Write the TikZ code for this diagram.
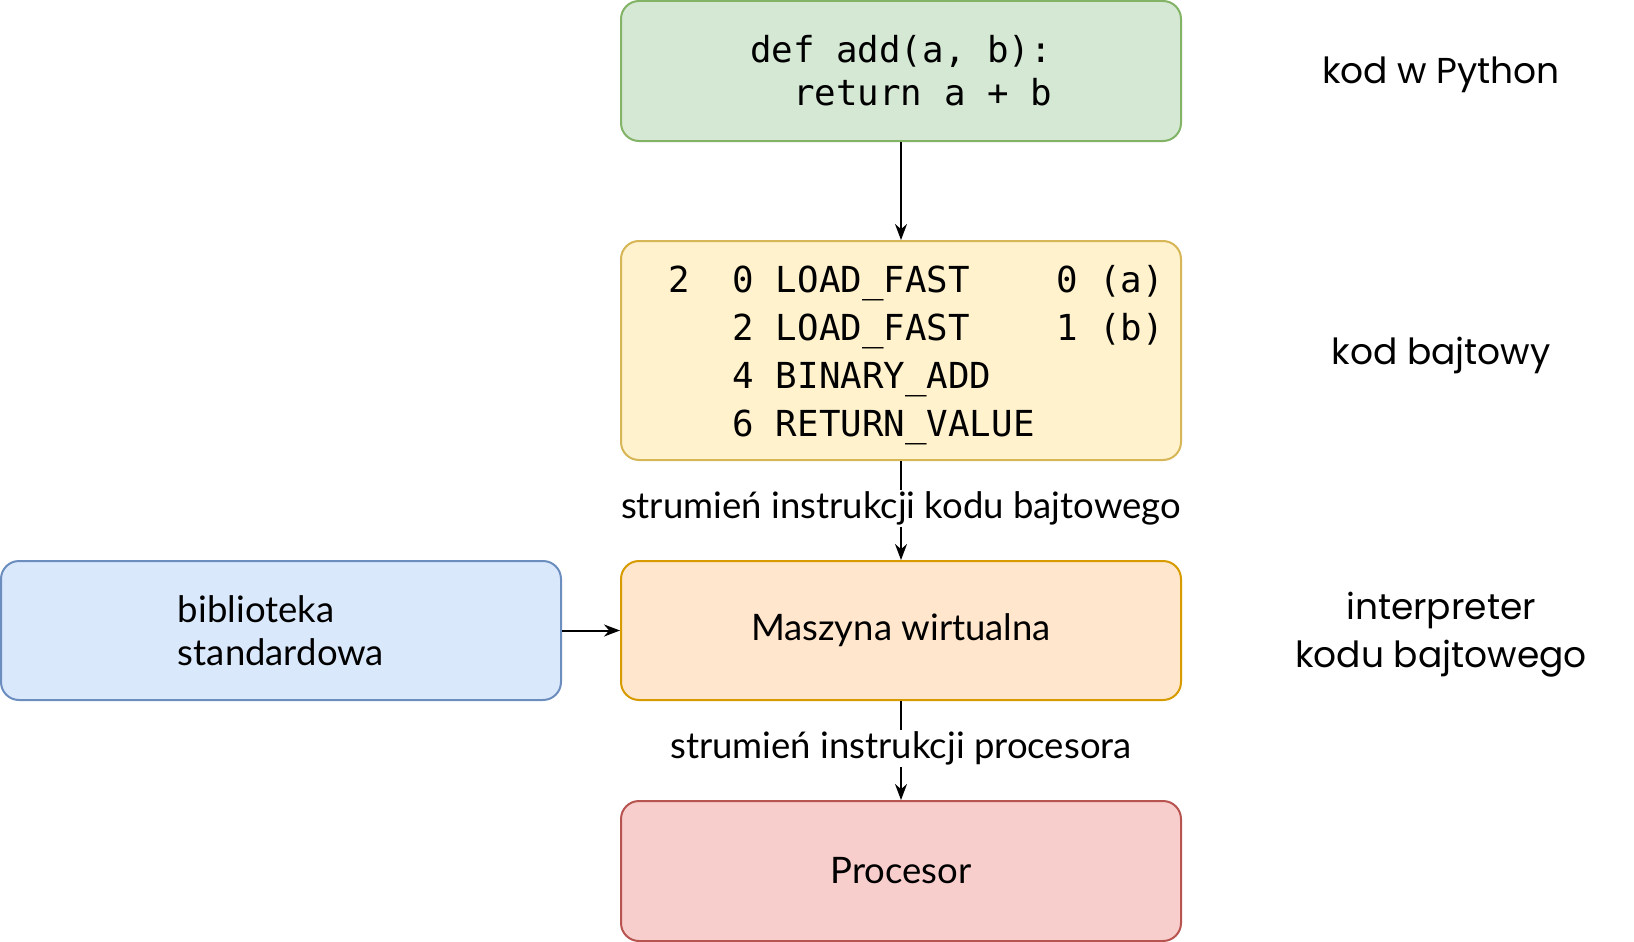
\documentclass[tikz,border=0pt]{standalone}
\usepackage{fontspec}
\setmainfont{Lato}
\newfontfamily\rlabelfont{Poppins}
\setmonofont{DejaVu Sans Mono}
\usetikzlibrary{arrows.meta}
\definecolor{gfill}{HTML}{D5E8D4}\definecolor{gdraw}{HTML}{82B366}
\definecolor{yfill}{HTML}{FFF2CC}\definecolor{ydraw}{HTML}{D6B656}
\definecolor{bfill}{HTML}{DAE8FC}\definecolor{bdraw}{HTML}{6C8EBF}
\definecolor{ofill}{HTML}{FFE6CC}\definecolor{odraw}{HTML}{D79B00}
\definecolor{rfill}{HTML}{F8CECC}\definecolor{rdraw}{HTML}{B85450}
\begin{document}
\begin{tikzpicture}[x=1pt,y=1pt,
  box/.style={draw, rounded corners=18pt, line width=2pt, minimum width=560pt,
    inner sep=0pt, font=\fontsize{36.5}{43}\selectfont, align=center},
  code/.style={font=\ttfamily\fontsize{35.8}{48}\selectfont, align=left, inner sep=0pt},
  arr/.style={-{Stealth[length=16pt,width=12pt]}, line width=2pt},
  elab/.style={fill=white, inner sep=2pt, font=\fontsize{36.5}{40}\selectfont},
  side/.style={font=\rlabelfont\fontsize{36}{48}\selectfont, align=center}]
\useasboundingbox (0,0) rectangle (1634,-942);
\node[box, fill=gfill, draw=gdraw, minimum height=140pt] (py) at (901,-71) {};
\node[font=\ttfamily\fontsize{35.8}{43}\selectfont, align=left, inner sep=0pt] (pytext) at (901,-70.5)
  {def add(a, b):\\\phantom{00}return a + b};
\node[box, fill=yfill, draw=ydraw, minimum height=219pt] (bc) at (901,-350.5) {};
\node[code, anchor=west] (bctext) at (668,-355)
  {2\phantom{00}0 LOAD\_FAST\phantom{0000}0 (a)\\
   \phantom{000}2 LOAD\_FAST\phantom{0000}1 (b)\\
   \phantom{000}4 BINARY\_ADD\\
   \phantom{000}6 RETURN\_VALUE};
\node[box, fill=ofill, draw=odraw, minimum height=139pt] (vm) at (901,-630.5) {Maszyna wirtualna};
\node[box, fill=bfill, draw=bdraw, minimum height=139pt, align=left] (lib) at (281,-630.5) {biblioteka\\standardowa};
\node[box, fill=rfill, draw=rdraw, minimum height=140pt] (cpu) at (901,-871) {Procesor};
\draw[arr] (py) -- (bc);
\draw[arr] (bc) -- node[elab, pos=0.48] (l1) {strumień instrukcji kodu bajtowego} (vm);
\draw[arr] (vm) -- node[elab, pos=0.48] (l2) {strumień instrukcji procesora} (cpu);
\draw[arr] (lib) -- (vm);
\node[side] (s1) at (1441,-75) {kod w Python};
\node[side] (s2) at (1441,-355) {kod bajtowy};
\node[side] (s3) at (1441,-635) {interpreter\\kodu bajtowego};
\end{tikzpicture}
\end{document}
